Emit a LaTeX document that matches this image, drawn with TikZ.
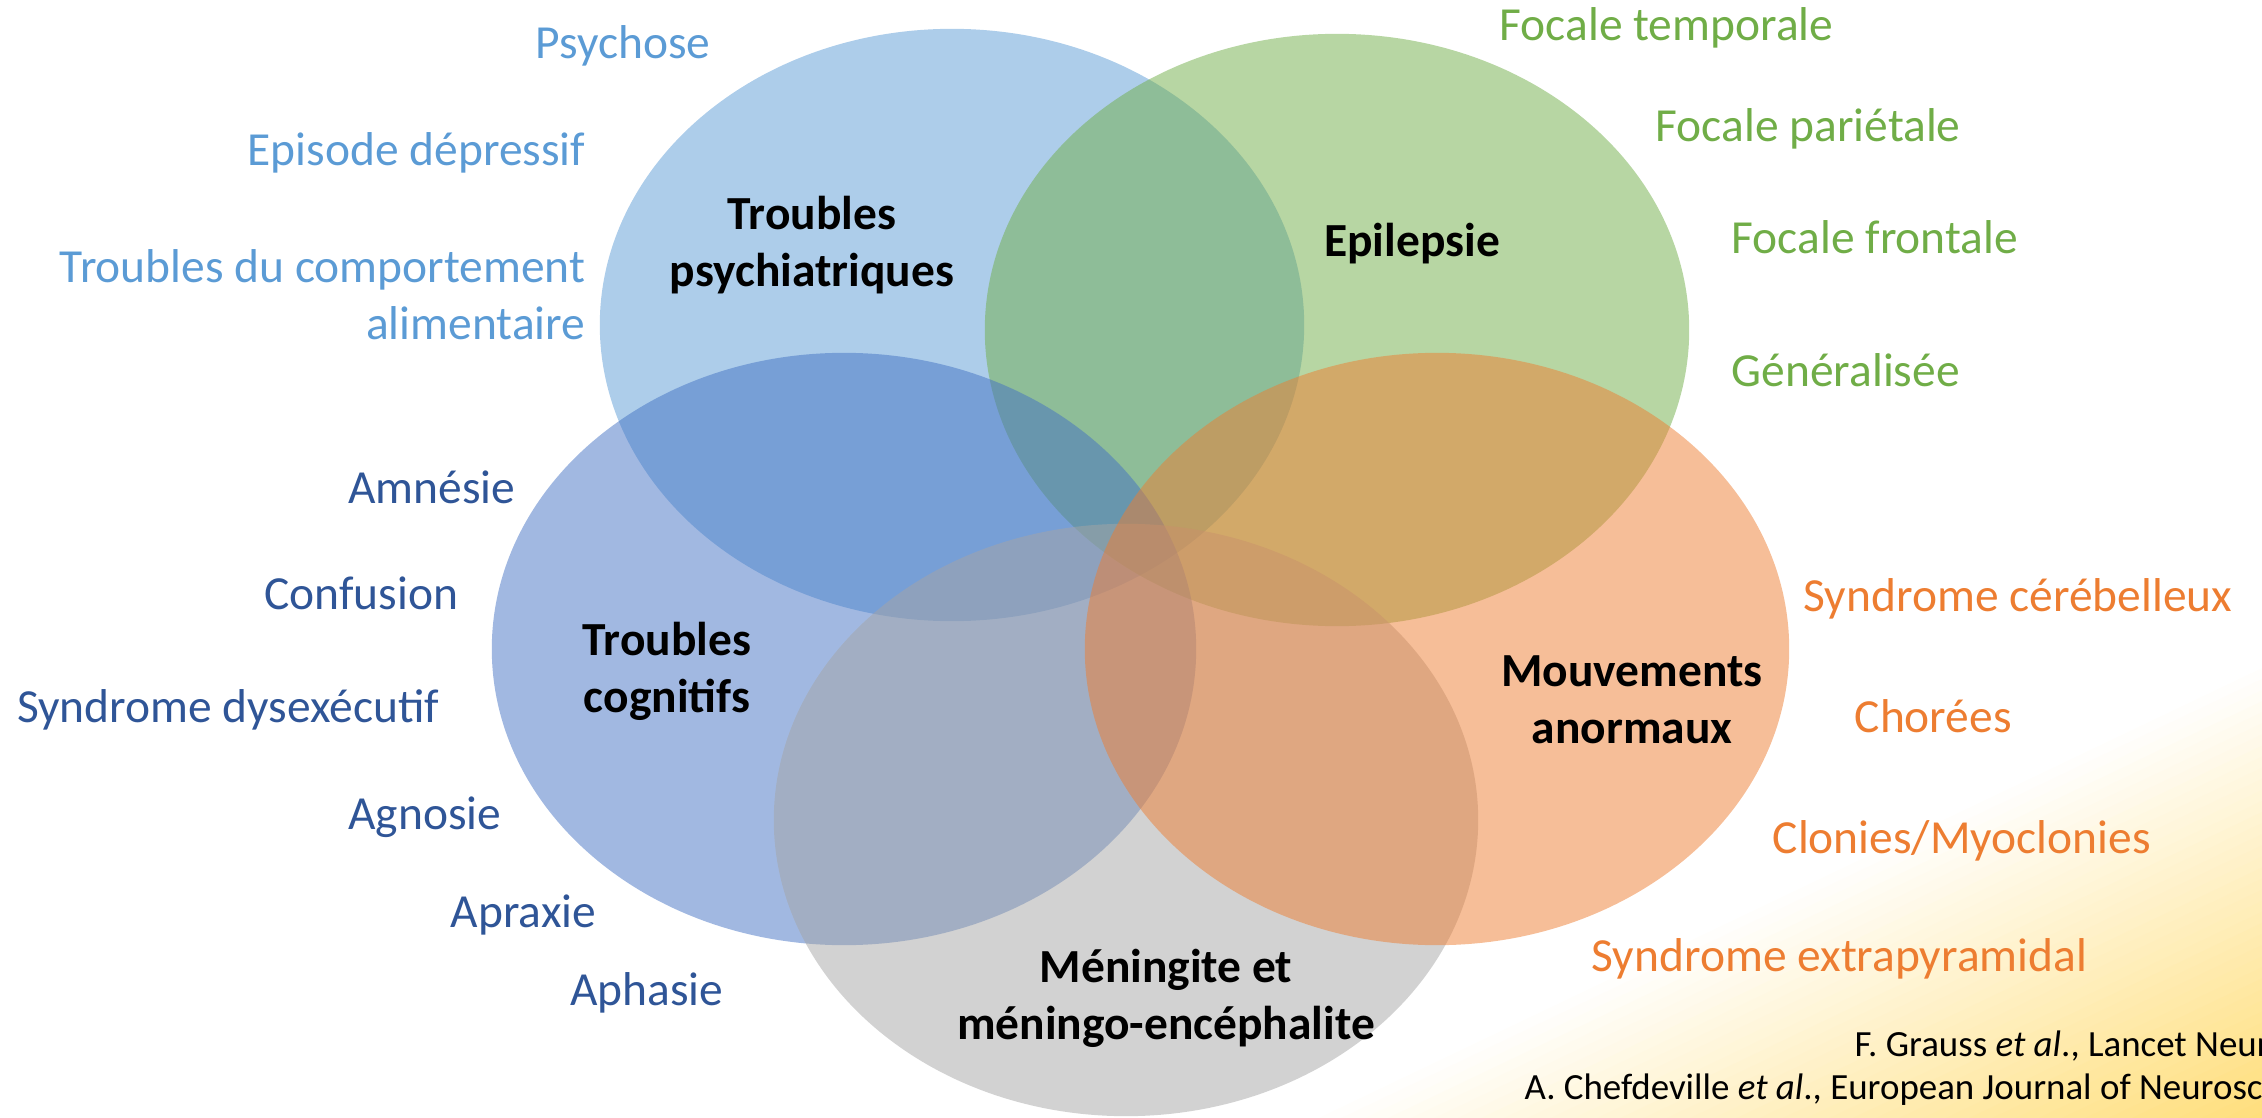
\documentclass[tikz,border=0pt]{standalone}
\usepackage{fontspec}
\setmainfont{Carlito}
\usepackage{xcolor}
\usepackage{tikz}
\usetikzlibrary{shapes.geometric}

\definecolor{psyblue}{HTML}{5B9BD5}
\definecolor{epigreen}{HTML}{70AD47}
\definecolor{cogblue}{HTML}{4472C4}
\definecolor{menigrey}{HTML}{A5A5A5}
\definecolor{movorange}{HTML}{ED7D31}
\definecolor{cogtext}{HTML}{2F5597}
\definecolor{goldbg}{HTML}{FFD966}

\begin{document}
\begin{tikzpicture}[x=0.01cm, y=-0.01cm,
		venn/.style={ellipse, minimum width=7.04cm, minimum height=5.92cm, inner sep=0pt, fill opacity=0.5},
		title/.style={font=\fontsize{13.5}{16.2}\selectfont\bfseries, align=center},
		item/.style={font=\fontsize{13.5}{16.2}\selectfont, inner sep=0pt},
		cite/.style={font=\fontsize{10.5}{12.5}\selectfont, inner sep=0pt, anchor=base west}]
				\useasboundingbox (0,0) rectangle (2262,1118);
				% fond degrade
				\begin{scope}
					\clip (0,0) rectangle (2262,1118);
					\begin{scope}[shift={(2262,668)}, rotate=25.5, x=1cm, y=1cm]
						\foreach \i in {1,...,48} {
							\pgfmathsetmacro{\p}{\i*100/48}
							\fill[goldbg!\p!white] (-20,{-(\i-1)*0.1}) rectangle (20,{-\i*0.1-0.05});
						}
						\fill[goldbg] (-20,-4.8) rectangle (20,-10);
					\end{scope}
				\end{scope}
				% ellipses
				\node[venn, fill=psyblue] (psy) at (952,325) {};
				\node[venn, fill=epigreen] (epi) at (1337,330) {};
				\node[venn, fill=cogblue] (cog) at (844,649) {};
				\node[venn, fill=menigrey] (men) at (1126,820) {};
				\node[venn, fill=movorange] (mov) at (1437,649) {};
				% titres
				\node[title] (tpsy) at (812,245) {Troubles\\psychiatriques};
				\node[title, anchor=base] (tepi) at (1412,256) {Epilepsie};
				\node[title] (tcog) at (667,671) {Troubles\\cognitifs};
				\node[title] (tmov) at (1632,700) {Mouvements\\anormaux};
				\node[title] (tmen) at (1166,998) {Méningite et\\méningo-encéphalite};
				% troubles psychiatriques
				\node[item, psyblue, anchor=base east] (psy1) at (711,58) {Psychose};
				\node[item, psyblue, anchor=base east] (psy2) at (586,166) {Episode dépressif};
				\node[item, psyblue, anchor=east, align=right] (psy3) at (586,295) {Troubles du comportement\\alimentaire};
				% epilepsie
				\node[item, epigreen, anchor=base west] (epi1) at (1499,41) {Focale temporale};
				\node[item, epigreen, anchor=base west] (epi2) at (1655,141) {Focale pariétale};
				\node[item, epigreen, anchor=base west] (epi3) at (1731,253) {Focale frontale};
				\node[item, epigreen, anchor=base west] (epi4) at (1731,386) {Généralisée};
				% troubles cognitifs
				\node[item, cogtext, anchor=base east] (cog1) at (516,503) {Amnésie};
				\node[item, cogtext, anchor=base east] (cog2) at (459,609) {Confusion};
				\node[item, cogtext, anchor=base east] (cog3) at (440,722) {Syndrome dysexécutif};
				\node[item, cogtext, anchor=base east] (cog4) at (502,829) {Agnosie};
				\node[item, cogtext, anchor=base east] (cog5) at (597,927) {Apraxie};
				\node[item, cogtext, anchor=base east] (cog6) at (724,1005) {Aphasie};
				% mouvements anormaux
				\node[item, movorange, anchor=base west] (mov1) at (1803,611) {Syndrome cérébelleux};
				\node[item, movorange, anchor=base west] (mov2) at (1854,732) {Chorées};
				\node[item, movorange, anchor=base west] (mov3) at (1772,853) {Clonies/Myoclonies};
				\node[item, movorange, anchor=base west] (mov4) at (1591,971) {Syndrome extrapyramidal};
				% references
				\node[cite] (ref1) at (1854,1056) {F. Grauss \textit{et al}., Lancet Neur};
				\node[cite] (ref2) at (1524,1099) {A. Chefdeville \textit{et al}., European Journal of Neurosc};
		\end{tikzpicture}
\end{document}
